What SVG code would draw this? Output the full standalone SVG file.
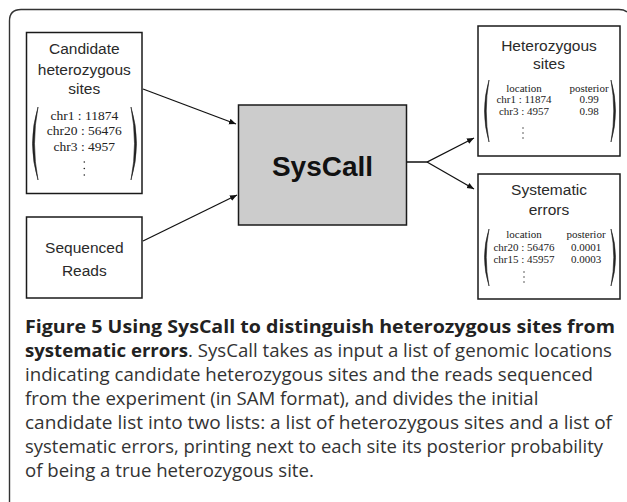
<svg xmlns="http://www.w3.org/2000/svg" width="627" height="502" viewBox="0 0 627 502">
<defs>
<style>
.box{fill:#fff;stroke:#1a1a1a;stroke-width:1.5}
.sys{fill:#cccccc;stroke:#1a1a1a;stroke-width:1.5}
.lbl{font-family:"Liberation Sans",Arial,sans-serif;font-size:15.5px;fill:#2a2a2a;text-anchor:middle}
.big{font-family:"Liberation Sans",Arial,sans-serif;font-size:28px;font-weight:bold;fill:#111;text-anchor:middle}
.m{font-family:"Liberation Serif","Times New Roman",serif;font-size:13.5px;fill:#222;text-anchor:middle}
.s{font-family:"Liberation Serif","Times New Roman",serif;font-size:11px;fill:#222;text-anchor:middle}
.par{fill:#222;stroke:#222;stroke-width:0.6}
.edge{stroke:#111;stroke-width:1.3;fill:none}
.cap{font-family:"Open Sans","Noto Sans",sans-serif;font-size:18.6px;fill:#333}
.capb{font-weight:bold;fill:#222}
</style>
<marker id="ah" markerWidth="8" markerHeight="8" refX="7" refY="4" orient="auto" markerUnits="userSpaceOnUse">
<path d="M0,1 L7,4 L0,7 Z" fill="#111"/>
</marker>
</defs>
<path d="M9.5,502 V21 Q9.5,9.5 21,9.5 H619 Q624,9.5 627,12" fill="none" stroke="#333" stroke-width="1.4"/>

<g id="candidate">
<rect class="box" x="26.5" y="32.5" width="115.5" height="161"/>
<text class="lbl" x="84.3" y="54">Candidate</text>
<text class="lbl" x="84.3" y="75">heterozygous</text>
<text class="lbl" x="84.3" y="94">sites</text>
<path class="par" d="M38,107 Q27,143.5 38,180 Q31,143.5 38,107 Z"/>
<path class="par" d="M131,107 Q142,143.5 131,180 Q138,143.5 131,107 Z"/>
<text class="m" x="84.3" y="119.5" xml:space="preserve">chr1 : 11874</text>
<text class="m" x="84.3" y="135" xml:space="preserve">chr20 : 56476</text>
<text class="m" x="84.3" y="150.5" xml:space="preserve">chr3 : 4957</text>
<circle cx="84.3" cy="162" r="0.8" fill="#222"/>
<circle cx="84.3" cy="168.5" r="0.8" fill="#222"/>
<circle cx="84.3" cy="175" r="0.8" fill="#222"/>
</g>

<g id="reads">
<rect class="box" x="26.5" y="217" width="115.5" height="81"/>
<text class="lbl" x="84.3" y="252.7">Sequenced</text>
<text class="lbl" x="84.3" y="276">Reads</text>
</g>

<g id="syscall">
<rect class="sys" x="238.5" y="105" width="168" height="120"/>
<text class="big" x="322.5" y="176">SysCall</text>
</g>

<g id="hetero">
<rect class="box" x="478" y="26" width="142" height="130"/>
<text class="lbl" x="549" y="51">Heterozygous</text>
<text class="lbl" x="549" y="68.5">sites</text>
<path class="par" d="M489,80 Q480,111 489,142 Q483.5,111 489,80 Z"/>
<path class="par" d="M611,80 Q620,111 611,142 Q616.5,111 611,80 Z"/>
<text class="s" x="524" y="91.5">location</text>
<text class="s" x="589" y="91.5">posterior</text>
<text class="s" x="524" y="103" xml:space="preserve">chr1 : 11874</text>
<text class="s" x="589" y="103">0.99</text>
<text class="s" x="524" y="114.5" xml:space="preserve">chr3 : 4957</text>
<text class="s" x="589" y="114.5">0.98</text>
<circle cx="523" cy="128" r="0.7" fill="#222"/>
<circle cx="523" cy="133" r="0.7" fill="#222"/>
<circle cx="523" cy="138" r="0.7" fill="#222"/>
</g>

<g id="errors">
<rect class="box" x="478" y="174" width="142" height="125"/>
<text class="lbl" x="549" y="195">Systematic</text>
<text class="lbl" x="549" y="215">errors</text>
<path class="par" d="M489,229 Q480,257.5 489,286 Q483.5,257.5 489,229 Z"/>
<path class="par" d="M611,229 Q620,257.5 611,286 Q616.5,257.5 611,229 Z"/>
<text class="s" x="524" y="237.5">location</text>
<text class="s" x="586" y="237.5">posterior</text>
<text class="s" x="524" y="250.5" xml:space="preserve">chr20 : 56476</text>
<text class="s" x="586" y="250.5">0.0001</text>
<text class="s" x="524" y="262.5" xml:space="preserve">chr15 : 45957</text>
<text class="s" x="586" y="262.5">0.0003</text>
<circle cx="524" cy="272" r="0.7" fill="#222"/>
<circle cx="524" cy="277" r="0.7" fill="#222"/>
<circle cx="524" cy="282" r="0.7" fill="#222"/>
</g>

<g id="connectors">
<line class="edge" x1="143" y1="89" x2="236" y2="124" marker-end="url(#ah)"/>
<line class="edge" x1="143" y1="241" x2="237" y2="195" marker-end="url(#ah)"/>
<polyline class="edge" points="407,162 427,162 474,138" marker-end="url(#ah)"/>
<line class="edge" x1="427" y1="162" x2="474" y2="189" marker-end="url(#ah)"/>
</g>

<g id="caption" class="cap">
<text x="25" y="333" textLength="590" lengthAdjust="spacingAndGlyphs"><tspan class="capb">Figure 5 Using SysCall to distinguish heterozygous sites from</tspan></text>
<text x="25" y="357" textLength="587" lengthAdjust="spacingAndGlyphs"><tspan class="capb">systematic errors</tspan>. SysCall takes as input a list of genomic locations</text>
<text x="25" y="381" textLength="568" lengthAdjust="spacingAndGlyphs">indicating candidate heterozygous sites and the reads sequenced</text>
<text x="25" y="405">from the experiment (in SAM format), and divides the initial</text>
<text x="25" y="429" textLength="587" lengthAdjust="spacingAndGlyphs">candidate list into two lists: a list of heterozygous sites and a list of</text>
<text x="25" y="453" textLength="578" lengthAdjust="spacingAndGlyphs">systematic errors, printing next to each site its posterior probability</text>
<text x="25" y="477">of being a true heterozygous site.</text>
</g>
</svg>
